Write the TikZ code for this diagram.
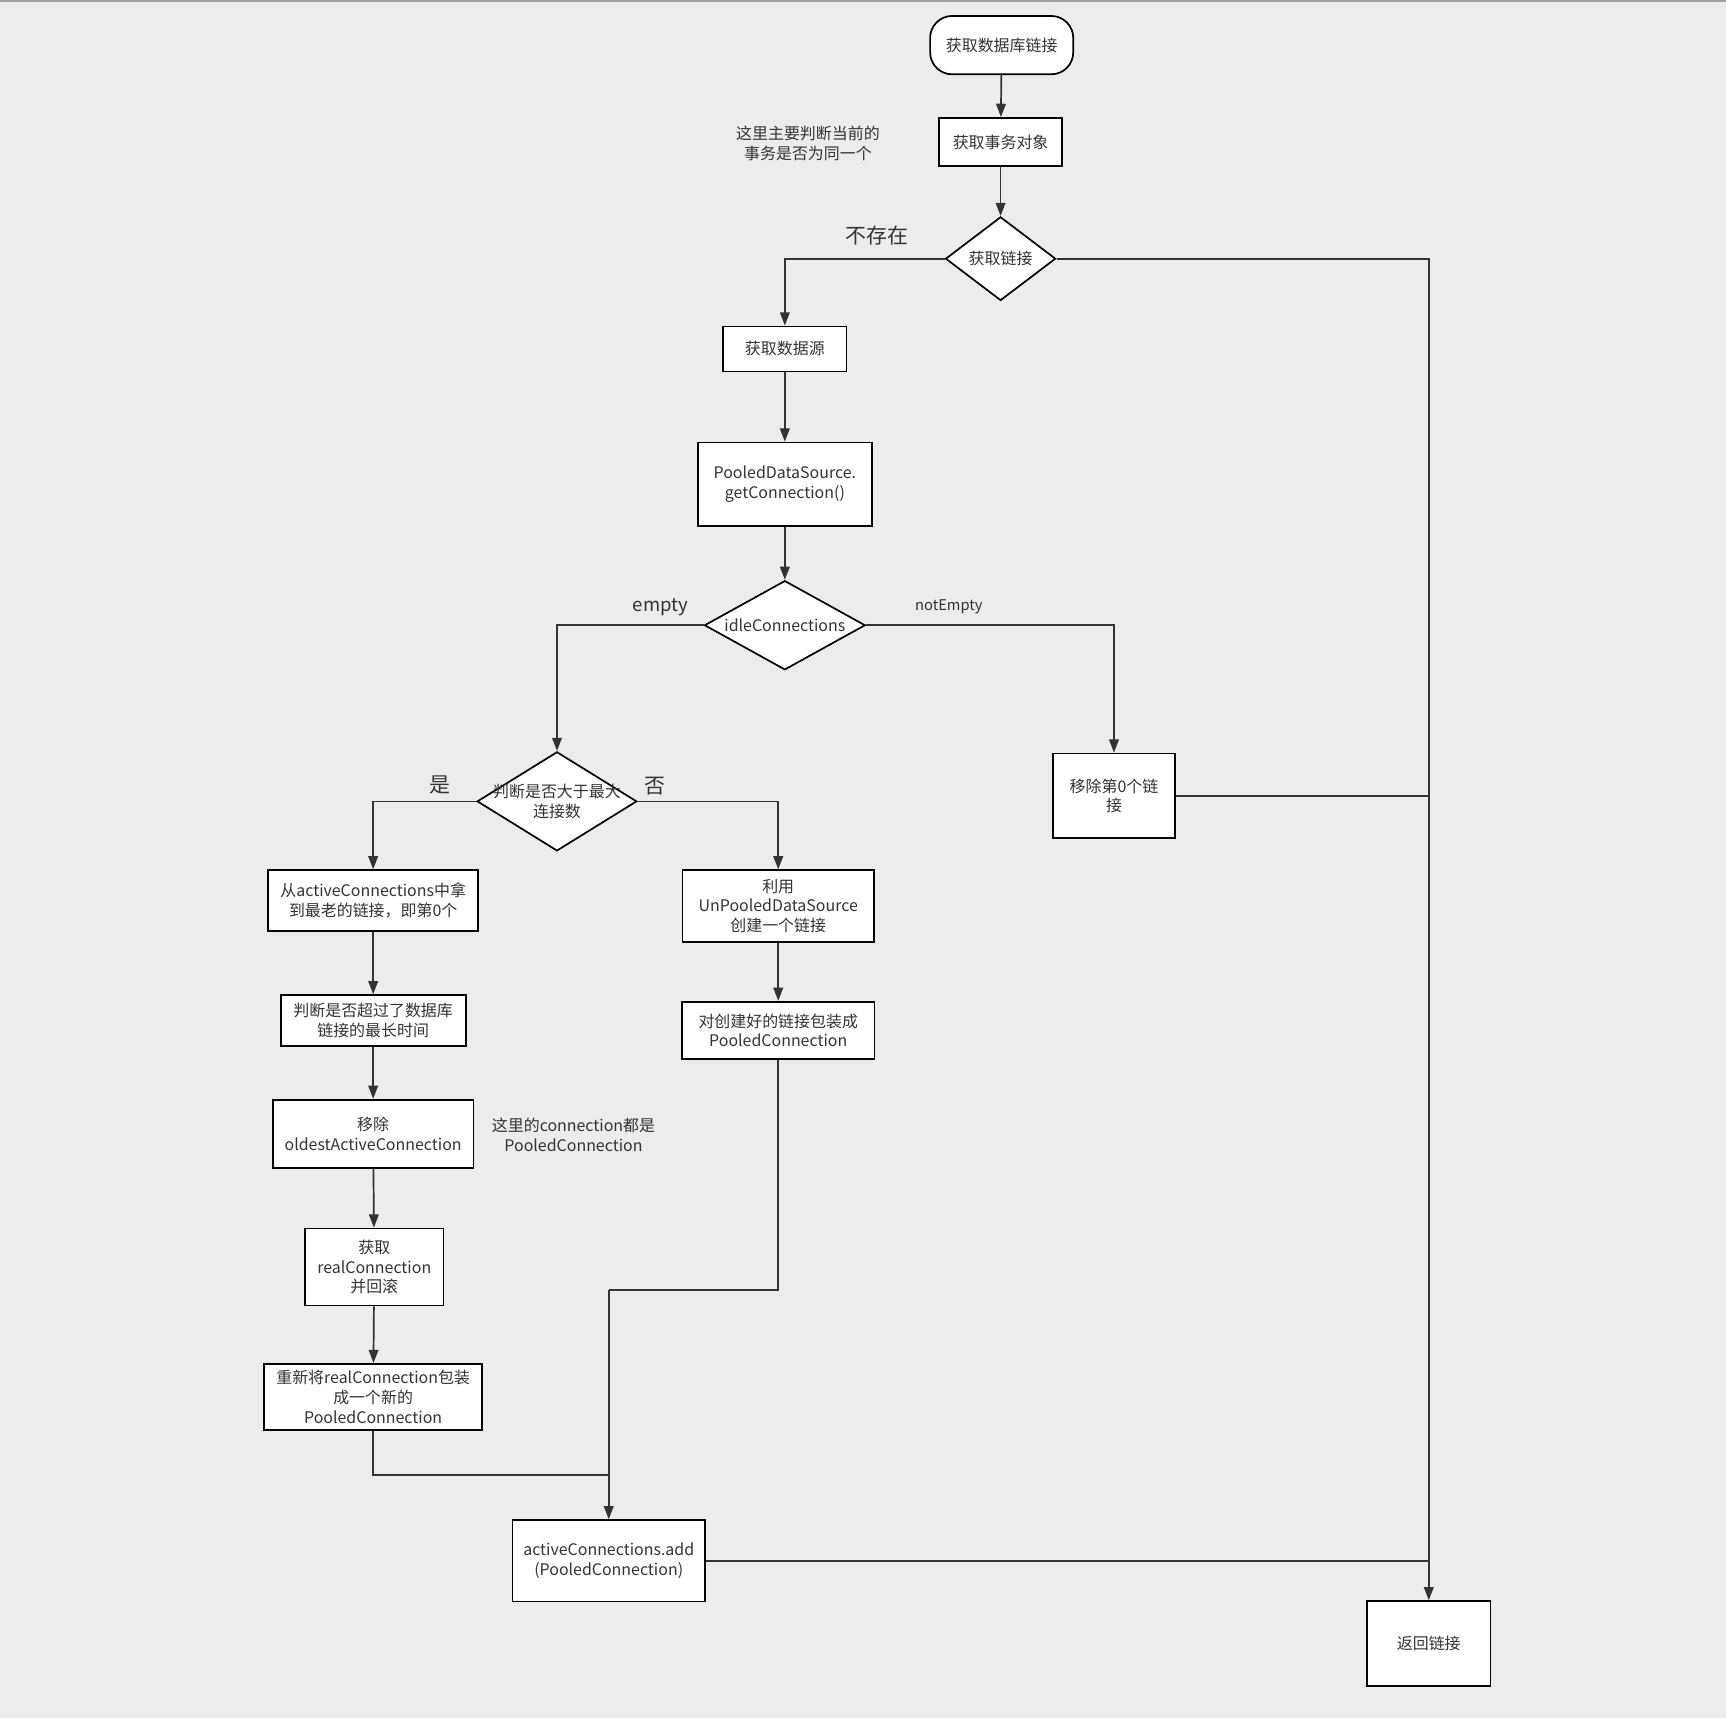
\documentclass[tikz,border=0pt]{standalone}
\usepackage{fontspec}
\setmainfont{Noto Sans CJK SC}
\usetikzlibrary{shapes.geometric,arrows.meta}
\definecolor{bggray}{HTML}{ECECEC}
\definecolor{inkgray}{HTML}{333333}

\begin{document}
\begin{tikzpicture}[x=0.025cm,y=-0.025cm,
    font=\fontsize{10.3}{12.8}\selectfont,
    every node/.style={text=inkgray},
    proc/.style={draw=black, line width=1.1pt, fill=white, align=center, inner sep=1pt},
    decision/.style={diamond, draw=black, line width=1.1pt, fill=white, inner sep=0pt},
    flow/.style={draw=inkgray, line width=1.1pt, -{Triangle[length=3mm,width=2.2mm]}},
    joinline/.style={draw=inkgray, line width=1.1pt},
    biglabel/.style={font=\fontsize{13.5}{16}\selectfont}]

    % Background and margins
    \fill[bggray] (0,0) rectangle (1568,1561);
    \fill[gray!75] (0,0) rectangle (1568,2);
    \useasboundingbox (0,0) rectangle (1568,1561);

    % Main column
    \node[proc, rounded corners=0.5cm, minimum width=3.25cm, minimum height=1.325cm] (start) at (910,41) {获取数据库链接};
    \node[proc, minimum width=2.8cm, minimum height=1.1cm] (trans) at (909,129) {获取事务对象};
    \node[decision, minimum width=2.5cm, minimum height=1.9cm, label={center:获取链接}] (getconn) at (909,235) {};
    \node[proc, minimum width=2.8cm, minimum height=1.025cm] (source) at (713,317) {获取数据源};
    \node[proc, minimum width=3.95cm, minimum height=1.9cm] (pooled) at (713,440) {PooledDataSource.\\getConnection()};
    \node[decision, minimum width=3.65cm, minimum height=2.025cm, label={center:idleConnections}] (idle) at (713,568) {};

    % notEmpty branch
    \node[proc, minimum width=2.775cm, minimum height=1.925cm] (remove0) at (1012,723) {移除第0个链\\接};
    \node[proc, minimum width=2.8cm, minimum height=1.925cm] (ret) at (1298,1493) {返回链接};

    % empty branch
    \node[decision, minimum width=3.625cm, minimum height=2.25cm, label={[align=center]center:判断是否大于最大\\连接数}] (maxconn) at (506,728) {};
    \node[proc, minimum width=4.775cm, minimum height=1.375cm] (oldest) at (339,818) {从activeConnections中拿\\到最老的链接，即第0个};
    \node[proc, minimum width=4.2cm, minimum height=1.15cm] (timeout) at (339,927) {判断是否超过了数据库\\链接的最长时间};
    \node[proc, minimum width=4.55cm, minimum height=1.55cm] (drop) at (339,1030) {移除\\oldestActiveConnection};
    \node[proc, minimum width=3.15cm, minimum height=1.75cm] (rollback) at (340,1151) {获取\\realConnection\\并回滚};
    \node[proc, minimum width=4.95cm, minimum height=1.5cm] (rewrap) at (339,1269) {重新将realConnection包装\\成一个新的\\PooledConnection};
    \node[proc, minimum width=4.35cm, minimum height=1.625cm] (create) at (707,823) {利用\\UnPooledDataSource\\创建一个链接};
    \node[proc, minimum width=4.375cm, minimum height=1.3cm] (wrap) at (707,936) {对创建好的链接包装成\\PooledConnection};
    \node[proc, minimum width=4.375cm, minimum height=1.85cm] (add) at (553,1418) {activeConnections.add\\(PooledConnection)};

    % Notes and edge labels
    \node[align=center] (note1) at (734,130) {这里主要判断当前的\\事务是否为同一个};
    \node[align=center] (note2) at (521,1031) {这里的connection都是\\PooledConnection};
    \node[biglabel] (lnone) at (797,214) {不存在};
    \node[font=\fontsize{12}{14}\selectfont] (lempty) at (600,552) {empty};
    \node[font=\fontsize{9.5}{12}\selectfont] (lnotempty) at (862,551) {notEmpty};
    \node[biglabel] (lyes) at (400,713) {是};
    \node[biglabel] (lno) at (595,714) {否};

    \coordinate (mergeG) at (553,1172);
    \coordinate (mergeE) at (553,1340);

    % Connectors
    \draw[flow] (start) -- (trans);
    \draw[flow] (trans) -- (getconn);
    \draw[flow] (getconn.west) -| (source.north);
    \draw[flow] (getconn.east) -| (ret.north);
    \draw[flow] (source) -- (pooled);
    \draw[flow] (pooled) -- (idle);
    \draw[flow] (idle.west) -| (maxconn.north);
    \draw[flow] (idle.east) -| (remove0.north);
    \draw[joinline] (remove0.east) -- (remove0.east -| ret);
    \draw[flow] (maxconn.west) -| (oldest.north);
    \draw[flow] (maxconn.east) -| (create.north);
    \draw[flow] (oldest) -- (timeout);
    \draw[flow] (timeout) -- (drop);
    \draw[flow] (drop) -- (rollback);
    \draw[flow] (rollback) -- (rewrap);
    \draw[flow] (create) -- (wrap);
    \draw[joinline] (wrap.south) |- (mergeG);
    \draw[flow] (mergeG) -- (add.north);
    \draw[joinline] (rewrap.south) |- (mergeE);
    \draw[joinline] (add.east) -- (add.east -| ret);

\end{tikzpicture}
\end{document}
